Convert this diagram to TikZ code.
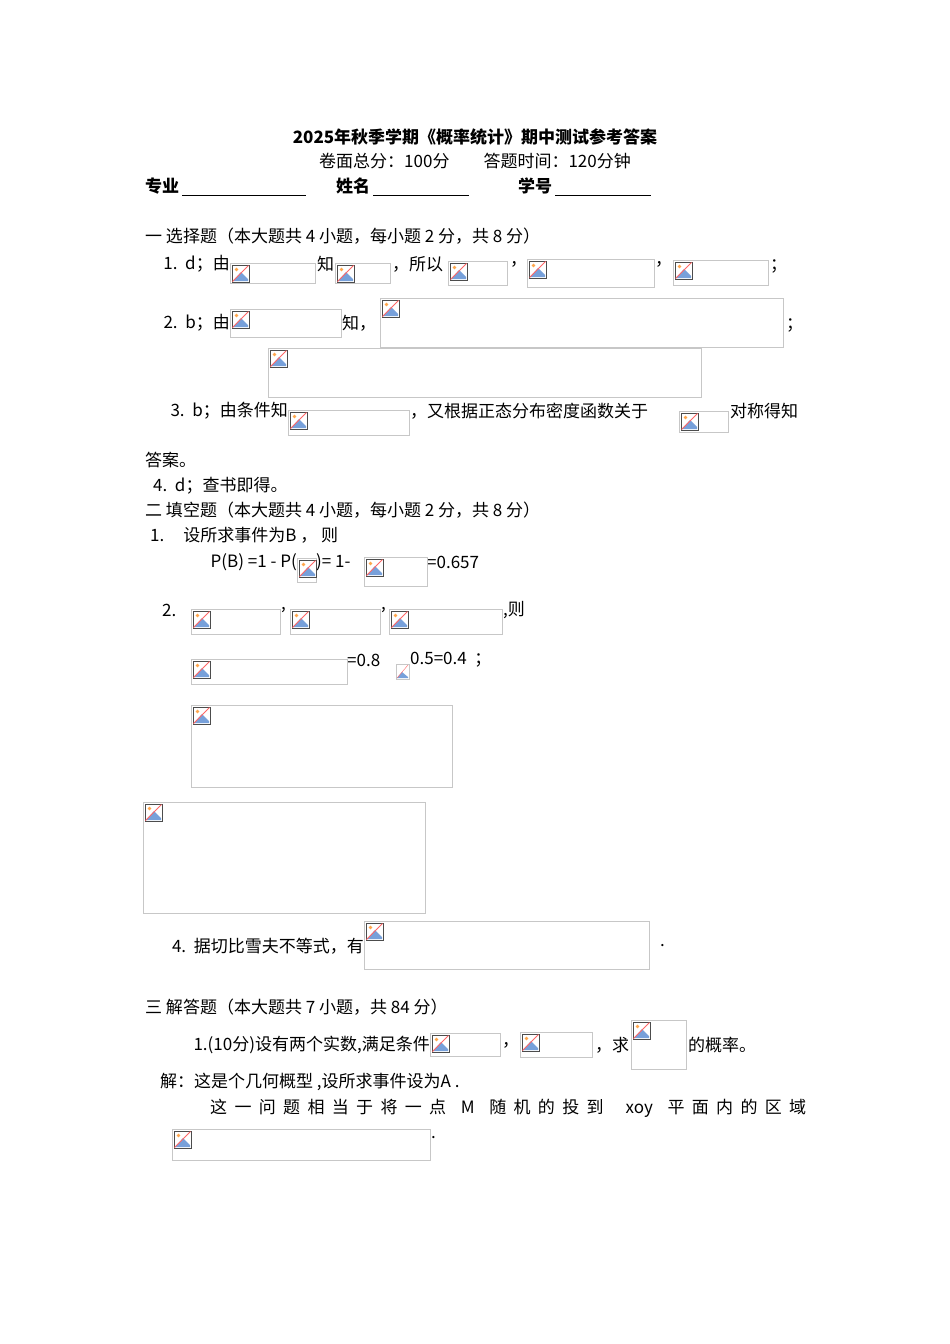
\documentclass[tikz,border=0pt]{standalone}
\usepackage{fontspec}
\setmainfont{Noto Sans CJK SC}
\begin{document}
\begin{tikzpicture}[x=1pt,y=-1pt,
  t/.style={anchor=west,inner sep=0pt,font=\fontsize{17}{20}\selectfont},
  te/.style={t,anchor=east},
  phbox/.style={draw=black!22,line width=0.8pt}]
\useasboundingbox[fill=white] (0,0) rectangle (950,1344);
\newcommand\ph[4]{%
  \draw[phbox] (#1,#2) rectangle (#3,#4);
  \begin{scope}[shift={(#1+2,#2+2)}]
    \fill[white] (0,0) rectangle (17,17);
    \fill[cyan!50!blue!55] (1,16) -- (9,7) -- (16,14) -- (16,16) -- cycle;
    \draw[black!70,line width=0.7pt] (0,0) rectangle (17,17);
    \fill[orange!70] (4.5,4.5) circle (1.8);
    \draw[red!60,line width=1pt] (0.5,16.5) -- (16.5,0.5);
  \end{scope}}
\node[t,anchor=center,font=\fontsize{17}{20}\selectfont\bfseries] (title) at (475,137) {2025年秋季学期《概率统计》期中测试参考答案};
\node[t,anchor=center] (sub) at (475,161) {卷面总分：100分\quad\quad 答题时间：120分钟};
\node[t,font=\fontsize{17}{20}\selectfont\bfseries] (zy) at (145,186) {专业};
\draw (182,195) -- (306,195);
\node[t,font=\fontsize{17}{20}\selectfont\bfseries] (xm) at (336,186) {姓名};
\draw (373,195) -- (469,195);
\node[t,font=\fontsize{17}{20}\selectfont\bfseries] (xh) at (518,186) {学号};
\draw (555,195) -- (651,195);
\node[t] (s1) at (145,236) {一 选择题（本大题共 4 小题，每小题 2 分，共 8 分）};
\node[te] (a1) at (230,264) {1.\ \ d；由};
\node[t] (a1b) at (317,264) {知};
\node[t] (a1c) at (392,264) {，所以};
\node[t] (a1d) at (510,264) {，};
\node[t] (a1e) at (655,264) {，};
\node[t] (a1f) at (770,266) {；};
\ph{230}{263}{315}{283}\ph{335}{263}{390}{283}\ph{448}{261}{507}{285}\ph{527}{259}{654}{287}\ph{673}{260}{768}{285}
\node[te] (a2) at (230,323) {2.\ \ b；由};
\node[t] (a2b) at (342,323) {知，};
\node[t] (a2c) at (786,325) {；};
\ph{230}{309}{341}{337}\ph{380}{298}{783}{347}\ph{268}{348}{701}{397}
\node[te] (a3) at (288,411) {3.\ \ b；由条件知};
\node[t] (a3b) at (410,411) {，又根据正态分布密度函数关于};
\node[t] (a3c) at (730,411) {对称得知};
\ph{288}{410}{409}{435}\ph{679}{411}{728}{432}
\node[t] (a3d) at (145,460) {答案。};
\node[t] (a4) at (153,486) {4.\ \ d；查书即得。};
\node[t] (s2) at (145,510) {二 填空题（本大题共 4 小题，每小题 2 分，共 8 分）};
\node[t] (b1) at (150,535) {1.\ \ \ \ \ 设所求事件为B ，\ 则};
\node[te] (b1b) at (297,562) {P(B)\ =1 - P(};
\node[t] (b1c) at (316,562) {)=\ 1-};
\node[t] (b1d) at (427,562) {=0.657};
\ph{297}{558}{316}{582}\ph{364}{557}{427}{586}
\node[t] (b2) at (162,610) {2.};
\node[t] (b2a) at (281,610) {,};
\node[t] (b2b) at (381,610) {,};
\node[t] (b2c) at (503,610) {,则};
\ph{191}{609}{280}{634}\ph{290}{609}{380}{634}\ph{389}{609}{502}{634}
\node[t] (b2d) at (347,660) {=0.8};
\node[t] (b2e) at (410,660) {0.5=0.4\ \ ；};
\ph{191}{659}{347}{684}
\draw[phbox] (396,664) rectangle (409,679);
\fill[cyan!50!blue!55] (397,678) -- (402,672) -- (408,677) -- (408,678) -- cycle;
\draw[red!60] (397,678) -- (408,665);
\ph{191}{705}{452}{787}
\ph{143}{802}{425}{913}
\node[te] (b4) at (364,946) {4.\ \ 据切比雪夫不等式，有};
\node[t] (b4b) at (660,946) {.};
\ph{364}{921}{649}{969}
\node[t] (s3) at (145,1007) {三 解答题（本大题共 7 小题，共 84 分）};
\node[te] (c1) at (430,1045) {1.(10分)设有两个实数,满足条件};
\node[t] (c1b) at (502,1045) {，};
\node[t] (c1c) at (595,1045) {，求};
\node[t] (c1d) at (688,1045) {的概率。};
\ph{430}{1033}{500}{1056}\ph{520}{1032}{592}{1057}\ph{631}{1020}{686}{1069}
\node[t] (c2) at (160,1082) {解：这是个几何概型 ,设所求事件设为A .};
\node[t] (c3) at (210,1108) {\makebox[596pt][s]{这 一 问 题 相 当 于 将 一 点 \ M\ \ 随 机 的 投 到 \ \ xoy\ \ 平 面 内 的 区 域}};
\node[t] (c4) at (431,1138) {.};
\ph{172}{1129}{430}{1160}
\end{tikzpicture}
\end{document}
